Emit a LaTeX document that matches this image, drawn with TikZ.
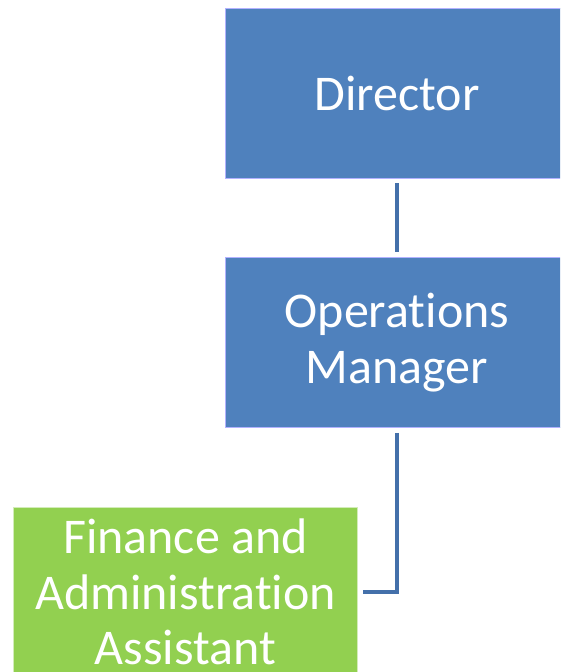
\documentclass[tikz,border=0pt]{standalone}
\usepackage{fontspec}
\setmainfont[Ligatures=NoCommon]{Carlito}
\usetikzlibrary{positioning}

\begin{document}
\begin{tikzpicture}[x=1pt, y=-1pt, node distance = 79pt, auto]
    \tikzstyle{post} = [rectangle, draw=white!70!blue, line width=0.6pt,
    fill=blueboxfill, text=white, align=center, minimum width=344pt,
    minimum height=170pt, font=\fontsize{50pt}{55.5pt}\selectfont]
    \tikzstyle{staff} = [post, fill=greenboxfill, draw=white!60!greenboxfill]
    \tikzstyle{line} = [draw, line width=4.5pt, color=linkblue,
    shorten <=5pt, shorten >=5pt]
    \definecolor{blueboxfill}{HTML}{4F81BD}
    \definecolor{greenboxfill}{HTML}{92D050}
    \definecolor{linkblue}{HTML}{4470AA}
    \useasboundingbox (0,0) rectangle (560,672);
    \clip (0,0) rectangle (560,672);
    \node [post] (director) at (397,93) {Director};
    \node [post, below=of director] (opsmanager) {Operations\\Manager};
    \node [staff, below=of opsmanager, xshift=-211.5pt] (finadmin) {Finance and\\
    Administration\\Assistant};
    \path [line] (director) -- (opsmanager);
    \path [line] (opsmanager) |- (finadmin);
\end{tikzpicture}
\end{document}
